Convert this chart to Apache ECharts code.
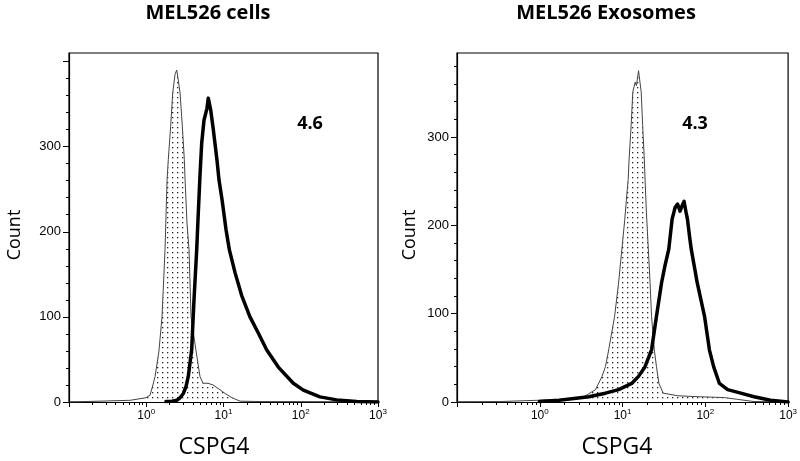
<!DOCTYPE html>
<html><head><meta charset="utf-8">
<script src="https://cdn.jsdelivr.net/npm/echarts@6/dist/echarts.min.js"></script>
<style>html,body{margin:0;padding:0;background:#fff}#c{width:800px;height:461px}</style>
</head><body><div id="c"></div>
<script>
// ---- data (CSPG4 fluorescence intensity, event count) ----
const cellsIsoX = [0.1,0.25,0.62,0.99,1.12,1.22,1.30,1.38,1.46,1.60,1.75,1.86,1.93,2.07,2.20,2.36,2.48,2.58,2.74,2.93,3.11,3.18,3.37,3.58,3.80,4.41,4.96,5.43,6.30,7.31,8.49,10.5,12.9,16.4,29.7,97.7,1000];
const cellsIsoY = [0,1,2,5,8,20,30,45,60,100,179,261,285,324,363,385,390,380,363,324,285,261,210,179,100,60,30,22,22,20,16,10,5,1,0.5,0.3,0];
const cellsCspgX = [1.80,2.15,2.48,2.74,3.02,3.27,3.50,3.87,4.15,4.50,4.68,4.96,5.22,5.59,5.93,6.11,6.35,6.59,6.83,7.31,8.24,8.74,9.57,10.8,11.9,14.1,17.2,22.0,28.2,36.3,51.2,80.1,108,177,292,530,1000];
const cellsCspgY = [0.5,1,2,5,10,18,30,61,120,179,215,266,304,331,330,345,357,350,343,323,284,261,238,202,179,152,125,100,81,61,41,22,14,6,2.5,0.5,0];
const exoIsoX = [0.1,0.327,0.986,2.25,3.41,4.71,5.65,6.21,6.80,8.02,8.96,9.81,10.6,11.2,11.7,12.0,12.7,13.3,14.2,14.7,15.6,16.8,17.5,18.3,18.7,19.4,20.5,21.5,22.4,24.2,25.7,27.5,31.0,46.9,81.4,170,245,388,1000];
const exoIsoY = [0,0.5,2,3,6,14,29,40,59,97,135,173,205,232,252,275,313,351,362,358,375,351,313,275,252,215,173,135,97,59,40,21,10,7,6,5,3,0.5,0];
const exoCspgX = [0.99,1.71,3.92,6.21,8.96,12.9,15.6,18.7,22.4,25.7,29.6,32.5,36.2,39.7,43.1,46.2,49.5,52.3,55.3,58.4,60.8,65.2,67.6,79.8,97.8,112,126,148,186,268,388,614,1000];
const exoCspgY = [0.5,2,6,10,14,21,29,40,59,97,135,154,173,207,220,224,216,222,227,215,207,184,173,135,97,59,40,21,14,10,6,2,0];

const panelTitles = ['MEL526 cells', 'MEL526 Exosomes'];
const panelValues = ['4.6', '4.3'];
const xAxisTitle = 'CSPG4';
const yAxisTitle = 'Count';
const xDecadeExponents = [-1, 0, 1, 2, 3];
const xLabelExponents = [0, 1, 2, 3];
const yTickLabels = [0, 100, 200, 300];
const yMax = [410, 395];

// ---- helpers ----
const toPairs = (xs, ys) => xs.map((x, i) => [Math.log10(x), ys[i]]);
const minorX = [];
for (let d = -1; d < 3; d++) for (let k = 2; k <= 9; k++) minorX.push(Math.log10(k * Math.pow(10, d)));
function minorY(max) { const a = []; for (let v = 20; v <= max; v += 20) if (v % 100) a.push(v); return a; }
function majorY(max) { const a = []; for (let v = 0; v <= max; v += 100) a.push(v); return a; }

const pat = document.createElement('canvas');
pat.width = 5; pat.height = 5;
const pc = pat.getContext('2d');
pc.fillStyle = '#fff'; pc.fillRect(0, 0, 5, 5);
pc.fillStyle = '#222'; pc.fillRect(2, 2, 1.3, 1.3);

const black = '#000';
const tickFont = 'Liberation Sans';

const grids = [
  {left: 69, top: 53, width: 309, height: 349},
  {left: 457, top: 53, width: 335, height: 349}
];

const xAxes = [], yAxes = [];
grids.forEach((g, gi) => {
  xAxes.push({
    gridIndex: gi, type: 'value', min: -1, max: 3, interval: 1, position: 'bottom',
    axisLine: {show: true, onZero: false, lineStyle: {color: black, width: 1.2}},
    axisTick: {show: true, length: 5, customValues: xDecadeExponents, lineStyle: {color: black, width: 1}},
    axisLabel: {
      show: true, margin: 6, color: black, customValues: xLabelExponents,
      formatter: v => (v < 0 ? '' : '{b|10}{s|' + v + '}'),
      rich: {b: {fontFamily: tickFont, fontSize: 12, color: black, lineHeight: 14, verticalAlign: 'bottom'},
             s: {fontFamily: tickFont, fontSize: 8, color: black, lineHeight: 14, verticalAlign: 'top'}}
    },
    splitLine: {show: false}
  });
  xAxes.push({
    gridIndex: gi, type: 'value', min: -1, max: 3, position: 'bottom',
    axisLine: {show: false, onZero: false}, axisLabel: {show: false}, splitLine: {show: false},
    axisTick: {show: true, length: 3, customValues: minorX, lineStyle: {color: black, width: 1}}
  });
  yAxes.push({
    gridIndex: gi, type: 'value', min: 0, max: yMax[gi], interval: 100, position: 'left',
    axisLine: {show: true, onZero: false, lineStyle: {color: black, width: 1.2}},
    axisTick: {show: true, length: 6, customValues: majorY(yMax[gi]), lineStyle: {color: black, width: 1}},
    axisLabel: {show: true, margin: 8, color: black, fontFamily: tickFont, fontSize: 13, customValues: yTickLabels,
      formatter: v => (v <= 300 ? String(v) : '')},
    splitLine: {show: false}
  });
  yAxes.push({
    gridIndex: gi, type: 'value', min: 0, max: yMax[gi], position: 'left',
    axisLine: {show: false, onZero: false}, axisLabel: {show: false}, splitLine: {show: false},
    axisTick: {show: true, length: 3, customValues: minorY(yMax[gi]), lineStyle: {color: black, width: 1}}
  });
});

function isoSeries(gi, xs, ys) {
  return {type: 'line', xAxisIndex: gi * 2, yAxisIndex: gi * 2, data: toPairs(xs, ys),
    showSymbol: false, symbol: 'none', z: 2,
    lineStyle: {color: '#444', width: 1}, areaStyle: {color: {image: pat, repeat: 'repeat'}, opacity: 1}};
}
function cspgSeries(gi, xs, ys) {
  return {type: 'line', xAxisIndex: gi * 2, yAxisIndex: gi * 2, data: toPairs(xs, ys),
    showSymbol: false, symbol: 'none', z: 3,
    lineStyle: {color: black, width: 3.5, join: 'round', cap: 'round'}};
}

const graphics = [
  {type: 'text', x: 208, y: 13, style: {text: panelTitles[0], font: 'bold 20px "Open Sans"', fill: black, textAlign: 'center', textVerticalAlign: 'middle'}},
  {type: 'text', x: 606, y: 13, style: {text: panelTitles[1], font: 'bold 20px "Open Sans"', fill: black, textAlign: 'center', textVerticalAlign: 'middle'}},
  {type: 'text', x: 310, y: 124, style: {text: panelValues[0], font: 'bold 18px "Open Sans"', fill: black, textAlign: 'center', textVerticalAlign: 'middle'}},
  {type: 'text', x: 695, y: 124, style: {text: panelValues[1], font: 'bold 18px "Open Sans"', fill: black, textAlign: 'center', textVerticalAlign: 'middle'}},
  {type: 'text', x: 214, y: 447, style: {text: xAxisTitle, font: '23px "Open Sans"', fill: black, textAlign: 'center', textVerticalAlign: 'middle'}},
  {type: 'text', x: 617, y: 447, style: {text: xAxisTitle, font: '23px "Open Sans"', fill: black, textAlign: 'center', textVerticalAlign: 'middle'}},
  {type: 'text', x: 15, y: 235, rotation: Math.PI / 2, style: {text: yAxisTitle, font: '18px "Open Sans"', fill: black, textAlign: 'center', textVerticalAlign: 'middle'}},
  {type: 'text', x: 410, y: 235, rotation: Math.PI / 2, style: {text: yAxisTitle, font: '18px "Open Sans"', fill: black, textAlign: 'center', textVerticalAlign: 'middle'}}
];

const chart = echarts.init(document.getElementById('c'), null, {renderer: 'canvas'});
chart.setOption({
  animation: false,
  backgroundColor: '#fff',
  grid: grids.map(g => Object.assign({show: true, borderColor: black, borderWidth: 1.2, backgroundColor: 'transparent', containLabel: false}, g)),
  xAxis: xAxes,
  yAxis: yAxes,
  series: [
    isoSeries(0, cellsIsoX, cellsIsoY), cspgSeries(0, cellsCspgX, cellsCspgY),
    isoSeries(1, exoIsoX, exoIsoY), cspgSeries(1, exoCspgX, exoCspgY)
  ],
  graphic: graphics
});
</script></body></html>
